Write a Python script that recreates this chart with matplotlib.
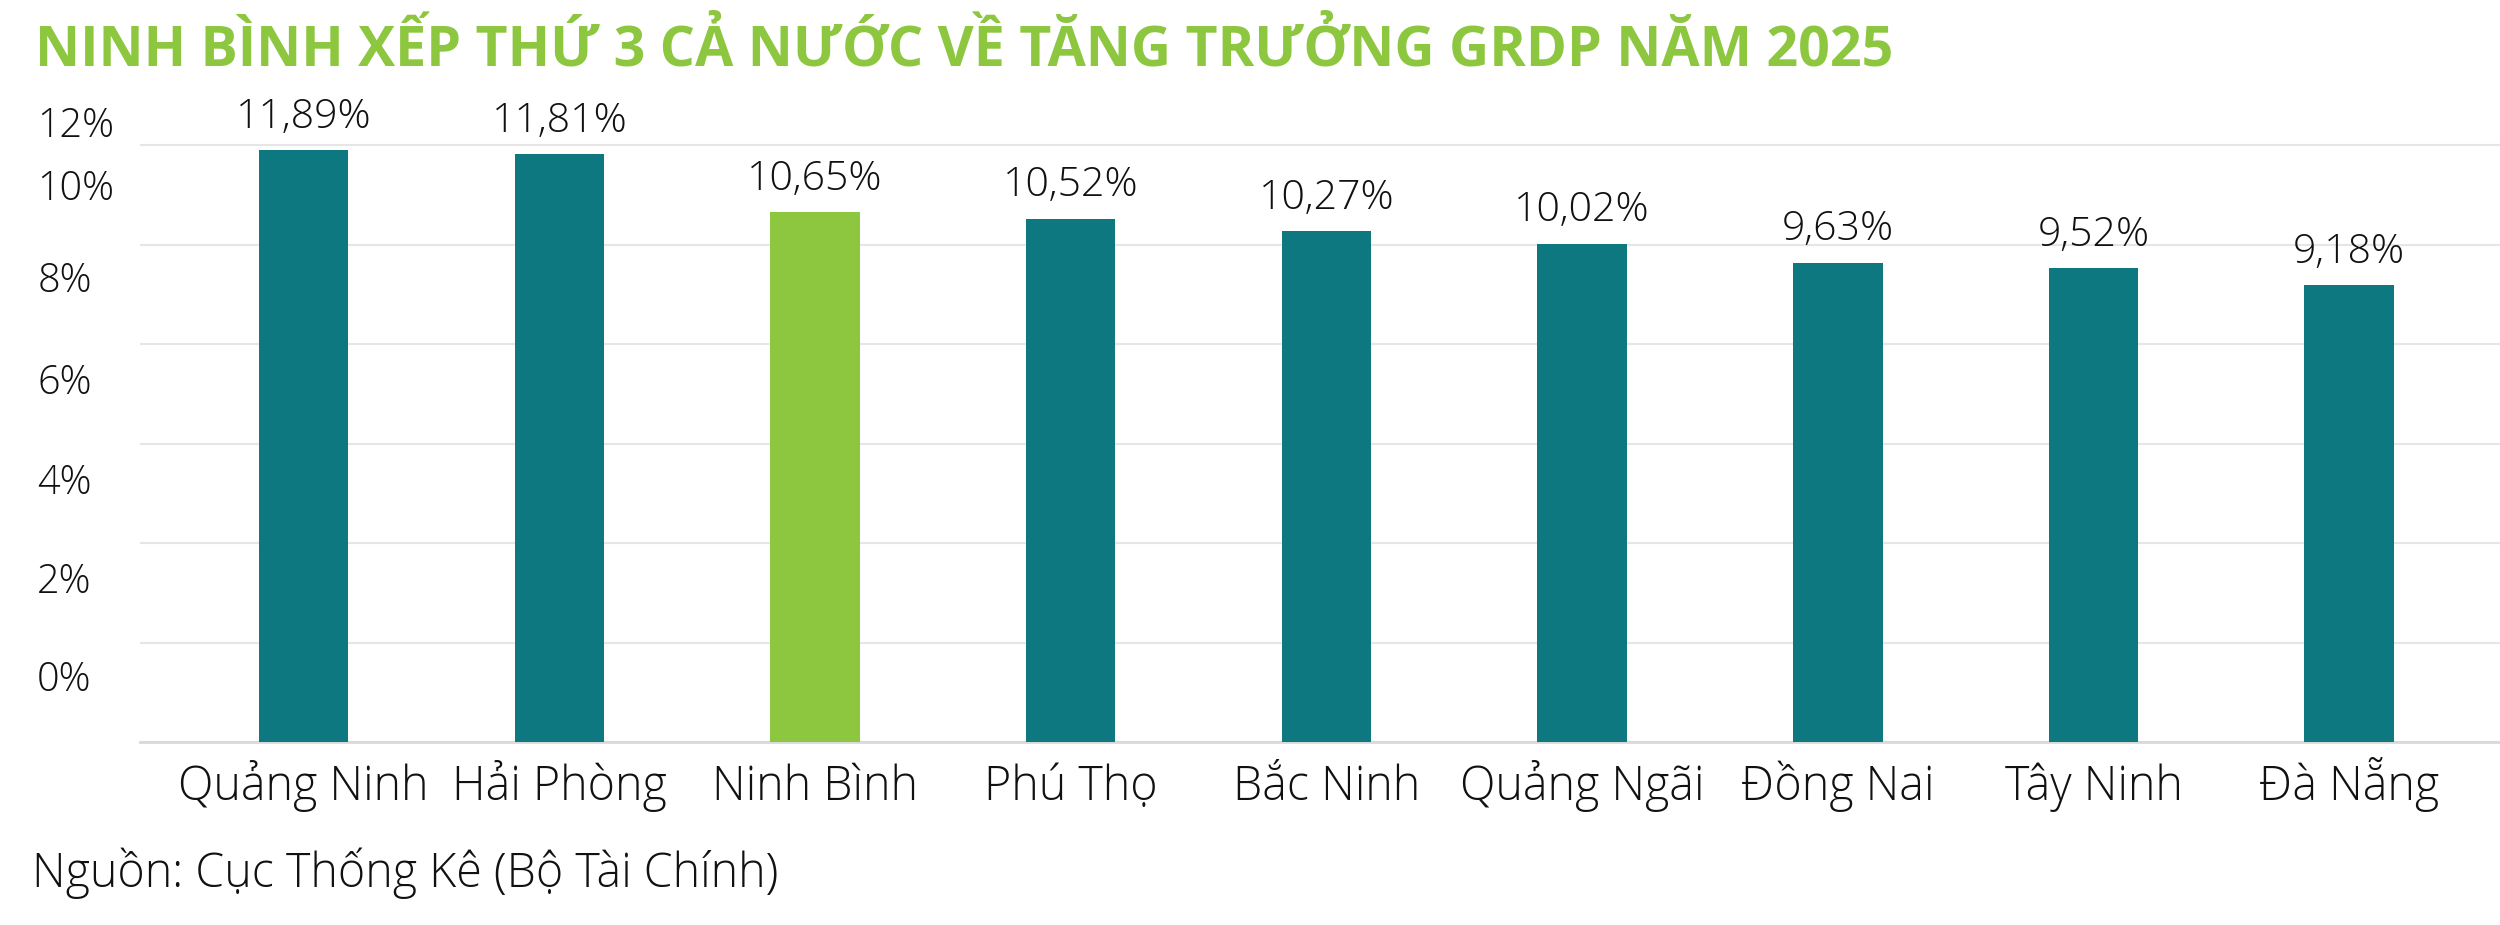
import numpy as np
import matplotlib
matplotlib.use("Agg")
import matplotlib.pyplot as plt

plt.rcParams['font.family'] = ['Open Sans', 'DejaVu Sans']
plt.rcParams['font.weight'] = 'light'

provinces = ['Quảng Ninh', 'Hải Phòng', 'Ninh Bình', 'Phú Thọ', 'Bắc Ninh',
             'Quảng Ngãi', 'Đồng Nai', 'Tây Ninh', 'Đà Nẵng']
growth = [11.89, 11.81, 10.65, 10.52, 10.27, 10.02, 9.63, 9.52, 9.18]
value_labels = ['11,89%', '11,81%', '10,65%', '10,52%', '10,27%',
                '10,02%', '9,63%', '9,52%', '9,18%']
y_ticks = [0, 2, 4, 6, 8, 10, 12]
y_tick_labels = ['0%', '2%', '4%', '6%', '8%', '10%', '12%']

title = 'NINH BÌNH XẾP THỨ 3 CẢ NƯỚC VỀ TĂNG TRƯỞNG GRDP NĂM 2025'
source = 'Nguồn: Cục Thống Kê (Bộ Tài Chính)'

teal = '#0D7880'
green = '#8DC63F'
highlight = 'Ninh Bình'

# the label of each gridline sits a bit above it in the original
label_shift = [1.33, 1.3, 1.3, 1.3, 1.35, 1.2, 0.48]

W, H = 2500, 925
fig = plt.figure(figsize=(W / 100, H / 100), dpi=100)
ax_left, ax_right, ax_bottom, ax_top = 140, 2500, 742, 100
ax = fig.add_axes([ax_left / W, (H - ax_bottom) / H,
                   (ax_right - ax_left) / W, (ax_bottom - ax_top) / H])

x = np.arange(len(provinces))
colors = [green if p == highlight else teal for p in provinces]
bars = ax.bar(x, growth, width=0.35, color=colors, zorder=3)

for b, lab in zip(bars, value_labels):
    ax.annotate(lab, (b.get_x() + b.get_width() / 2, b.get_height()),
                xytext=(0, 9), textcoords='offset points',
                ha='center', va='bottom', fontsize=29.5, color='#111111')

px_per_unit = 49.75
ax.set_ylim(0, (ax_bottom - ax_top) / px_per_unit)
ax.set_xlim(-0.64, 8.59)

ax.set_yticks(y_ticks)
ax.yaxis.grid(True, color='#E6E6E6', linewidth=1.5, zorder=0)
ax.tick_params(axis='y', which='major', length=0, labelleft=False)
ax.set_yticks([t + s for t, s in zip(y_ticks, label_shift)], y_tick_labels, minor=True)
ax.tick_params(axis='y', which='minor', length=0, pad=74, labelsize=28.5, labelcolor='#111111')
for t in ax.get_yticklabels(minor=True):
    t.set_ha('left')

ax.set_xticks(x, provinces)
ax.tick_params(axis='x', length=0, pad=42, labelsize=33.5, labelcolor='#111111')
for t in ax.get_xticklabels():
    t.set_va('baseline')

for s in ['top', 'right', 'left']:
    ax.spines[s].set_visible(False)
ax.spines['bottom'].set_color('#D9D9D9')
ax.spines['bottom'].set_linewidth(2)

fig.text(35 / W, 1 - 50 / H, title, fontsize=40, fontweight='bold',
         color=green, va='center', ha='left')
fig.text(32 / W, 1 - 873 / H, source, fontsize=33.5, color='#111111',
         va='center', ha='left')

fig.savefig('out.png', dpi=100)
